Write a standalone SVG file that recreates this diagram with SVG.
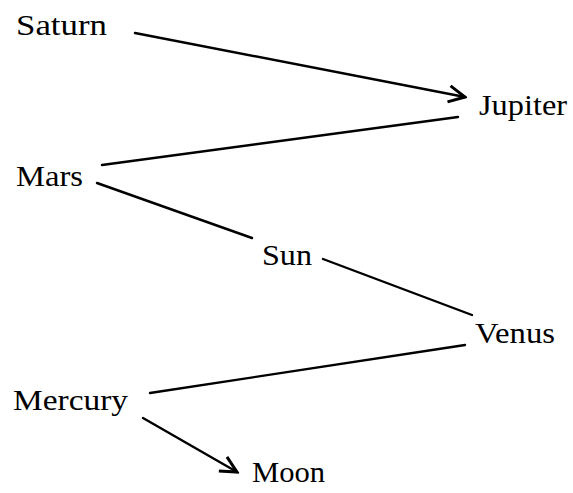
<svg xmlns="http://www.w3.org/2000/svg" width="573" height="493" viewBox="0 0 573 493">
<style>
.lbl{font-family:"Liberation Serif","DejaVu Serif",serif;font-size:30px;fill:#000}
.edge{stroke:#000;stroke-width:2.4;fill:none;stroke-linecap:round}
</style>
<defs>
<marker id="arr" markerUnits="userSpaceOnUse" markerWidth="20" markerHeight="20" viewBox="-14 -8 16 16" refX="0" refY="0" orient="auto">
<path d="M-13,-6.5 L0,0 L-13,6.5" fill="none" stroke="#000" stroke-width="2.4" stroke-linejoin="miter"/>
</marker>
</defs>
<rect width="573" height="493" fill="#fff"/>
<g id="edges">
<line class="edge" x1="135" y1="33" x2="465" y2="97" marker-end="url(#arr)"/>
<line class="edge" x1="102" y1="165" x2="458" y2="117"/>
<line class="edge" x1="97" y1="183" x2="252" y2="238"/>
<line class="edge" x1="323" y1="259" x2="472" y2="315"/>
<line class="edge" x1="465" y1="345" x2="150" y2="393"/>
<line class="edge" x1="143" y1="418" x2="237" y2="472" marker-end="url(#arr)"/>
</g>
<g id="saturn"><text class="lbl" x="16" y="35" textLength="91" lengthAdjust="spacingAndGlyphs">Saturn</text></g>
<g id="jupiter"><text class="lbl" x="479" y="115" textLength="88" lengthAdjust="spacingAndGlyphs">Jupiter</text></g>
<g id="mars"><text class="lbl" x="16" y="186" textLength="67" lengthAdjust="spacingAndGlyphs">Mars</text></g>
<g id="sun"><text class="lbl" x="262" y="265" textLength="50" lengthAdjust="spacingAndGlyphs">Sun</text></g>
<g id="venus"><text class="lbl" x="475" y="343" textLength="80" lengthAdjust="spacingAndGlyphs">Venus</text></g>
<g id="mercury"><text class="lbl" x="13" y="410" textLength="115" lengthAdjust="spacingAndGlyphs">Mercury</text></g>
<g id="moon"><text class="lbl" x="252" y="482" textLength="73" lengthAdjust="spacingAndGlyphs">Moon</text></g>
</svg>
